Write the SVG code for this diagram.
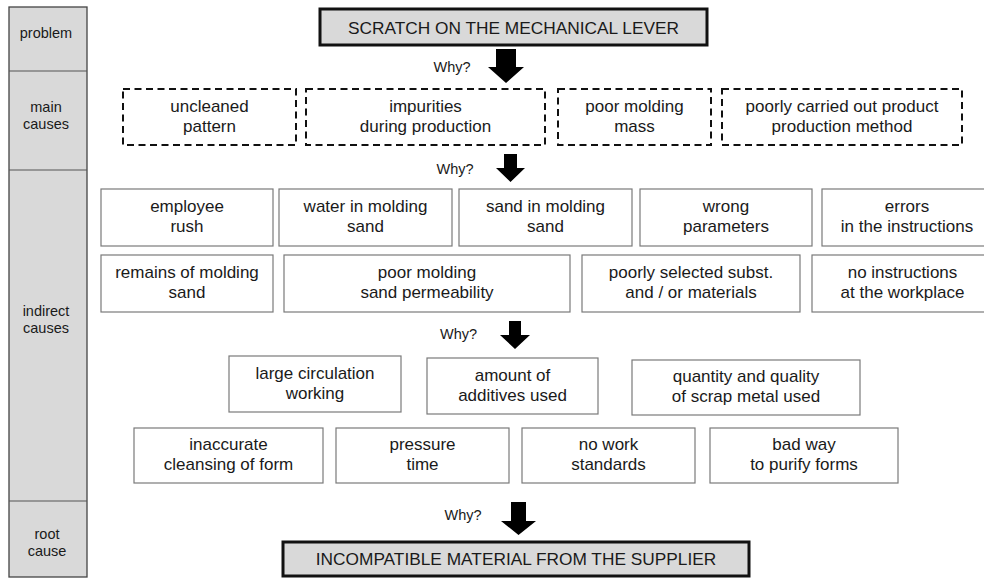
<svg xmlns="http://www.w3.org/2000/svg" width="984" height="578" viewBox="0 0 984 578">
<style>
text{font-family:"Liberation Sans",Arial,sans-serif;fill:#1a1a1a;text-anchor:middle}
.lab{font-size:14.5px}
.t{font-size:17px}
.big{font-size:17.3px}
.why{font-size:14.5px}
.box{fill:#fff;stroke:#7a7a7a;stroke-width:1.2}
.dash{fill:#fff;stroke:#111;stroke-width:2;stroke-dasharray:7 4.5}
.key{fill:#d9d9d9;stroke:#111;stroke-width:3}
.col{fill:#d9d9d9;stroke:#444;stroke-width:1.3}
.arr{fill:#000}
</style>
<rect width="984" height="578" fill="#fff"/>
<g id="levels">
<rect class="col" x="9" y="7" width="78" height="570"/>
<line x1="9" y1="71" x2="87" y2="71" stroke="#555" stroke-width="1.2"/>
<line x1="9" y1="170" x2="87" y2="170" stroke="#555" stroke-width="1.2"/>
<line x1="9" y1="501" x2="87" y2="501" stroke="#555" stroke-width="1.2"/>
<text class="lab" x="46" y="38">problem</text>
<text class="lab" x="46" y="112">main</text>
<text class="lab" x="46" y="128.5">causes</text>
<text class="lab" x="46" y="316">indirect</text>
<text class="lab" x="46" y="332.5">causes</text>
<text class="lab" x="47" y="538.5">root</text>
<text class="lab" x="47" y="555.5">cause</text>
</g>
<g id="problem">
<rect class="key" x="320" y="9" width="387" height="36"/>
<text class="big" x="513.5" y="33.5">SCRATCH ON THE MECHANICAL LEVER</text>
</g>
<g id="m1"><rect class="dash" x="123" y="89" width="173" height="56"/><text class="t" x="209.5" y="112">uncleaned</text><text class="t" x="209.5" y="132">pattern</text></g>
<g id="m2"><rect class="dash" x="306" y="89" width="239" height="56"/><text class="t" x="425.5" y="112">impurities</text><text class="t" x="425.5" y="132">during production</text></g>
<g id="m3"><rect class="dash" x="558" y="89" width="153" height="56"/><text class="t" x="634.5" y="112">poor molding</text><text class="t" x="634.5" y="132">mass</text></g>
<g id="m4"><rect class="dash" x="722" y="89" width="240" height="56"/><text class="t" x="842" y="112">poorly carried out product</text><text class="t" x="842" y="132">production method</text></g>
<g id="i1"><rect class="box" x="101" y="189" width="172" height="57"/><text class="t" x="187" y="212">employee</text><text class="t" x="187" y="232">rush</text></g>
<g id="i2"><rect class="box" x="279" y="189" width="173" height="57"/><text class="t" x="365.5" y="212">water in molding</text><text class="t" x="365.5" y="232">sand</text></g>
<g id="i3"><rect class="box" x="459" y="189" width="173" height="57"/><text class="t" x="545.5" y="212">sand in molding</text><text class="t" x="545.5" y="232">sand</text></g>
<g id="i4"><rect class="box" x="640" y="189" width="172" height="57"/><text class="t" x="726" y="212">wrong</text><text class="t" x="726" y="232">parameters</text></g>
<g id="i5"><rect class="box" x="822" y="189" width="170" height="57"/><text class="t" x="907" y="212">errors</text><text class="t" x="907" y="232">in the instructions</text></g>
<g id="i6"><rect class="box" x="101" y="255" width="172" height="57"/><text class="t" x="187" y="278">remains of molding</text><text class="t" x="187" y="298">sand</text></g>
<g id="i7"><rect class="box" x="284" y="255" width="286" height="57"/><text class="t" x="427" y="278">poor molding</text><text class="t" x="427" y="298">sand permeability</text></g>
<g id="i8"><rect class="box" x="582" y="255" width="218" height="57"/><text class="t" x="691" y="278">poorly selected subst.</text><text class="t" x="691" y="298">and / or materials</text></g>
<g id="i9"><rect class="box" x="812" y="255" width="181" height="57"/><text class="t" x="902.5" y="278">no instructions</text><text class="t" x="902.5" y="298">at the workplace</text></g>
<g id="i10"><rect class="box" x="229" y="356" width="172" height="56"/><text class="t" x="315" y="378.5">large circulation</text><text class="t" x="315" y="398.5">working</text></g>
<g id="i11"><rect class="box" x="427" y="358" width="171" height="56"/><text class="t" x="512.5" y="380.5">amount of</text><text class="t" x="512.5" y="400.5">additives used</text></g>
<g id="i12"><rect class="box" x="632" y="360" width="228" height="55"/><text class="t" x="746" y="382">quantity and quality</text><text class="t" x="746" y="402">of scrap metal used</text></g>
<g id="i13"><rect class="box" x="134" y="428" width="189" height="55"/><text class="t" x="228.5" y="450">inaccurate</text><text class="t" x="228.5" y="470">cleansing of form</text></g>
<g id="i14"><rect class="box" x="336" y="428" width="173" height="55"/><text class="t" x="422.5" y="450">pressure</text><text class="t" x="422.5" y="470">time</text></g>
<g id="i15"><rect class="box" x="522" y="428" width="173" height="55"/><text class="t" x="608.5" y="450">no work</text><text class="t" x="608.5" y="470">standards</text></g>
<g id="i16"><rect class="box" x="710" y="428" width="188" height="55"/><text class="t" x="804" y="450">bad way</text><text class="t" x="804" y="470">to purify forms</text></g>
<g id="root">
<rect class="key" x="283" y="542" width="466" height="34"/>
<text class="big" x="516" y="565">INCOMPATIBLE MATERIAL FROM THE SUPPLIER</text>
</g>
<g id="connectors">
<polygon class="arr" points="496,49 516,49 516,67 524,67 506,83 488,67 496,67"/>
<text class="why" x="452" y="72">Why?</text>
<polygon class="arr" points="504,154 517,154 517,168 525,168 510.5,182 496,168 504,168"/>
<text class="why" x="455" y="173.5">Why?</text>
<polygon class="arr" points="509,321 521,321 521,335 530,335 515,349 500,335 509,335"/>
<text class="why" x="458.5" y="338.5">Why?</text>
<polygon class="arr" points="511,502 526,502 526,521 536,521 518.5,535 501,521 511,521"/>
<text class="why" x="463" y="520">Why?</text>
</g>
</svg>
